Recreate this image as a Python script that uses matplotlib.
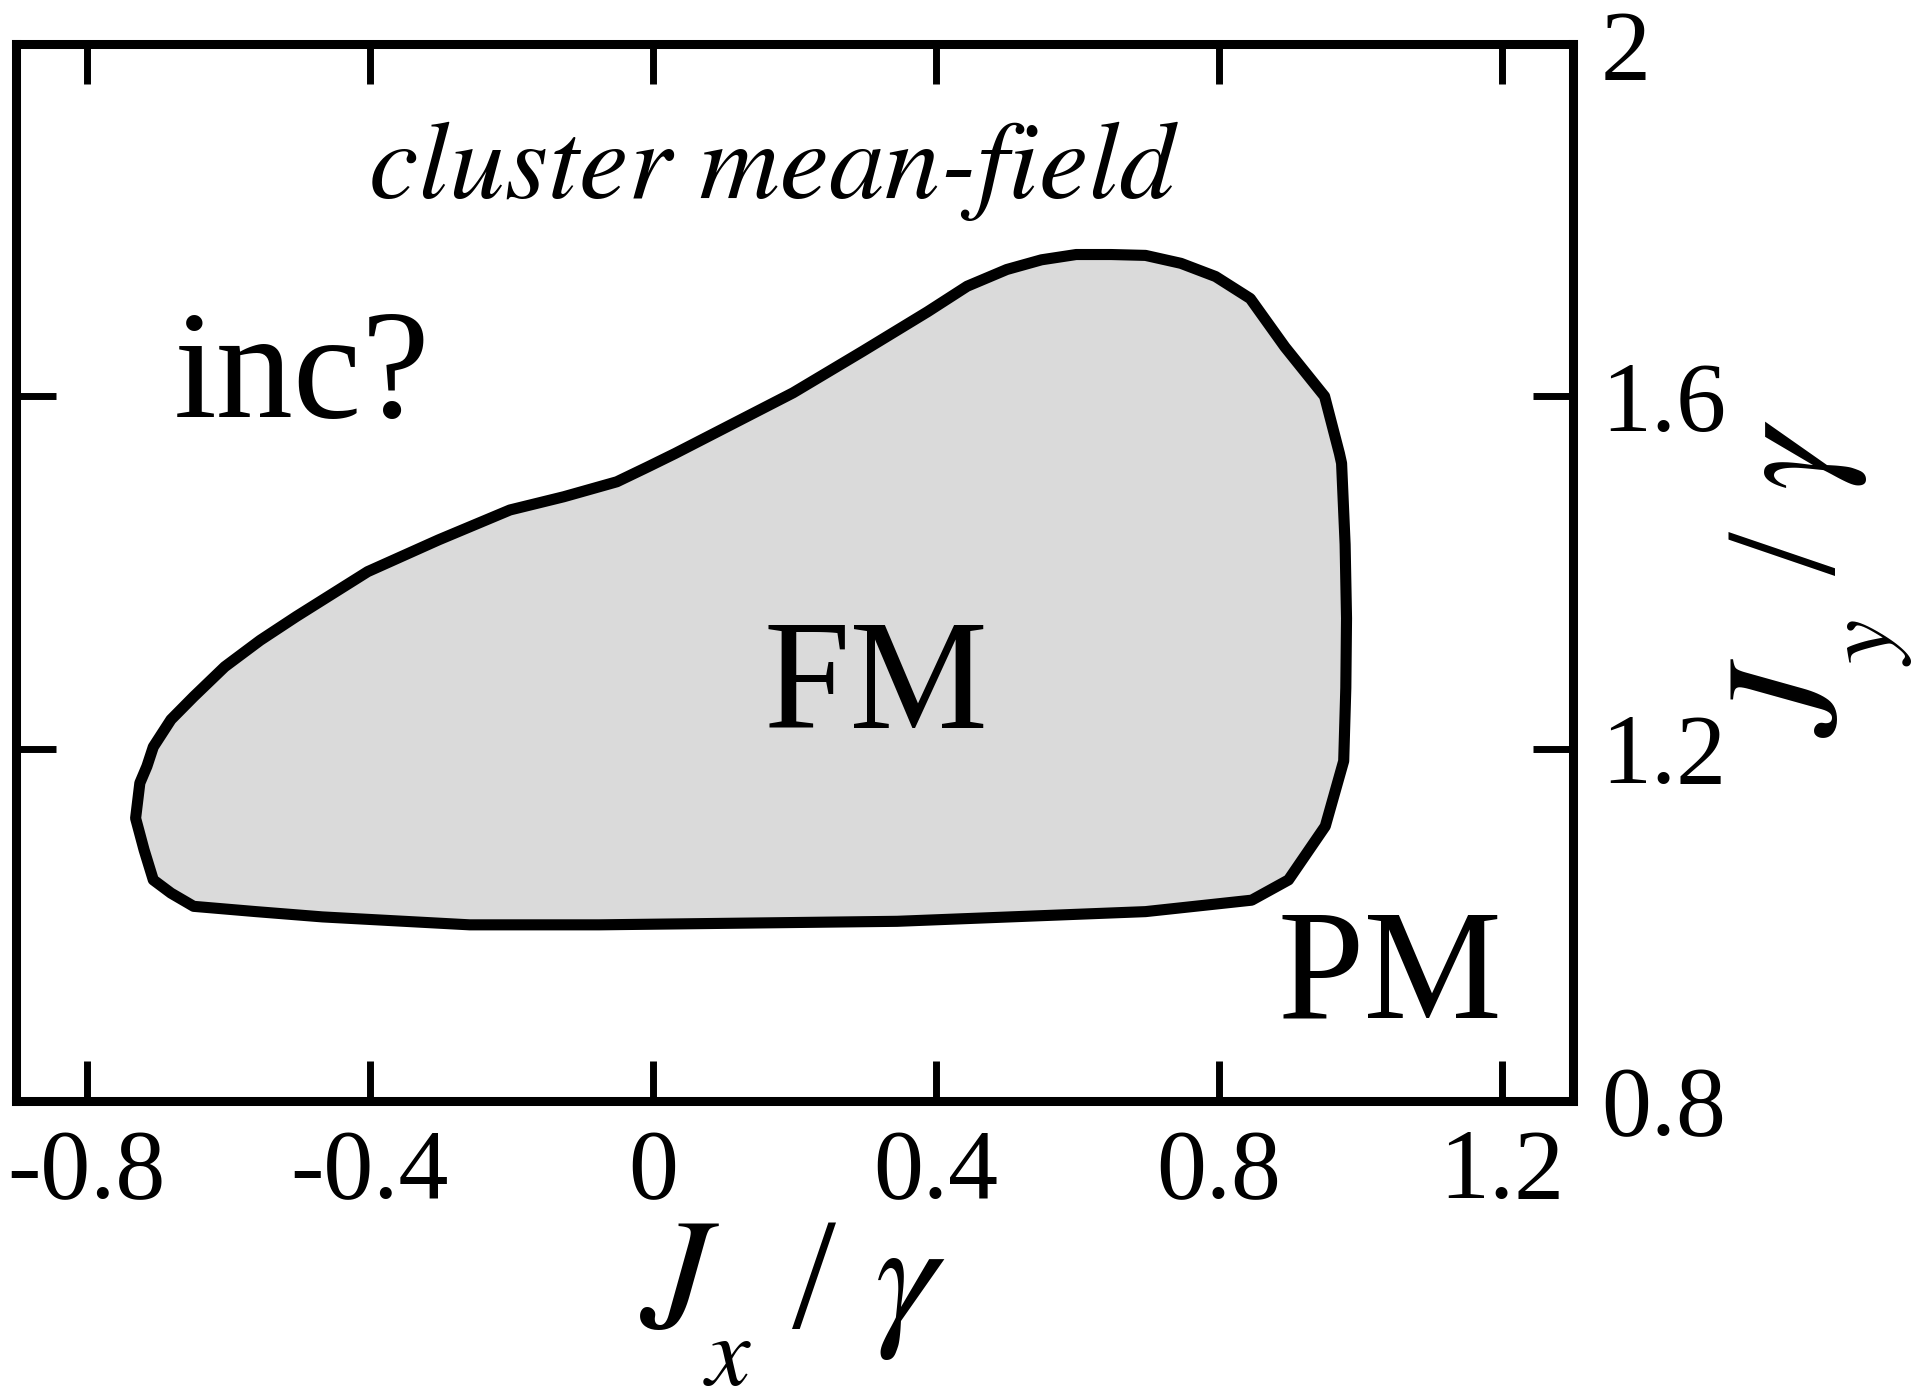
import matplotlib
matplotlib.use("Agg")
import matplotlib.pyplot as plt

plt.rcParams["mathtext.fontset"] = "stix"

# ---- data (phase boundary of the FM region) ----
boundary_x = [-0.731, -0.725, -0.715, -0.706, -0.681, -0.649, -0.605, -0.555,
              -0.504, -0.403, -0.303, -0.202, -0.126, -0.051, -0.007, 0.031,
              0.198, 0.296, 0.388, 0.444, 0.500, 0.549, 0.598, 0.647, 0.696,
              0.746, 0.795, 0.844, 0.893, 0.949, 0.970, 0.973, 0.978, 0.980,
              0.979, 0.976, 0.950, 0.898, 0.846, 0.696, 0.345, -0.076, -0.259,
              -0.467, -0.561, -0.649, -0.681, -0.706, -0.719]
boundary_y = [1.121, 1.161, 1.180, 1.202, 1.233, 1.259, 1.293, 1.323,
              1.350, 1.401, 1.437, 1.471, 1.486, 1.503, 1.520, 1.535,
              1.604, 1.651, 1.696, 1.725, 1.744, 1.755, 1.761, 1.761, 1.760,
              1.751, 1.736, 1.711, 1.656, 1.600, 1.535, 1.524, 1.432, 1.348,
              1.269, 1.186, 1.112, 1.051, 1.028, 1.015, 1.004, 1.000, 1.000,
              1.009, 1.015, 1.021, 1.036, 1.051, 1.085]

x_ticks = [-0.8, -0.4, 0.0, 0.4, 0.8, 1.2]
x_tick_labels = ["-0.8", "-0.4", "0", "0.4", "0.8", "1.2"]
y_ticks = [0.8, 1.2, 1.6, 2.0]
y_tick_labels = ["0.8", "1.2", "1.6", "2"]
x_limits = (-0.9, 1.3)
y_limits = (0.8, 2.0)

title_text = "cluster mean-field"
region_labels = ["inc?", "FM", "PM"]

W, H = 1920, 1394
SERIF = "Liberation Serif"


def P(x, y):
    return x / W, 1 - y / H


fig = plt.figure(figsize=(W / 100, H / 100), dpi=100)
fig.patch.set_facecolor("white")
l, r, t, b = 16, 1573, 44, 1101
ax = fig.add_axes([l / W, 1 - b / H, (r - l) / W, (b - t) / H])

ax.fill(boundary_x, boundary_y, facecolor="#dadada", edgecolor="black",
        linewidth=8, joinstyle="round", zorder=2)

ax.set_xlim(*x_limits)
ax.set_ylim(*y_limits)
ax.set_xticks(x_ticks)
ax.set_xticklabels(x_tick_labels)
ax.set_yticks(y_ticks)
ax.set_yticklabels(y_tick_labels)

for sp in ax.spines.values():
    sp.set_linewidth(6.5)
    sp.set_zorder(5)

ax.tick_params(axis="both", direction="in", length=29, width=5,
               top=True, bottom=True, left=True, right=True,
               labelleft=False, labelright=True, labelbottom=True,
               labelsize=72, pad=20)
for lab in ax.get_xticklabels() + ax.get_yticklabels():
    lab.set_fontfamily(SERIF)

# ---- texts inside the plot ----
fig.text(*P(772, 198), title_text, fontfamily="STIXGeneral", fontstyle="italic",
         fontsize=80, ha="center", va="baseline")
fig.text(*P(174, 417), region_labels[0], fontfamily=SERIF, fontsize=111,
         ha="left", va="baseline")
fig.text(*P(876, 728), region_labels[1], fontfamily=SERIF, fontsize=112,
         ha="center", va="baseline")
fig.text(*P(1390, 1018), region_labels[2], fontfamily=SERIF, fontsize=112,
         ha="center", va="baseline")

# ---- axis labels: J_x / gamma and J_y / gamma ----
big, small = 114, 72
fig.text(*P(640, 1327), r"$J$", fontsize=big, ha="left", va="baseline")
fig.text(*P(703, 1385), r"$x$", fontsize=small, ha="left", va="baseline")
fig.text(*P(792, 1327), "/", fontfamily=SERIF, fontsize=big,
         ha="left", va="baseline")
fig.text(*P(874, 1327), r"$\gamma$", fontsize=big, ha="left", va="baseline")

rot = dict(rotation=90, rotation_mode="anchor", ha="left", va="baseline")
fig.text(*P(1835, 737), r"$J$", fontsize=big, **rot)
fig.text(*P(1892, 666), r"$y$", fontsize=small, **rot)
fig.text(*P(1834, 575), "/", fontfamily=SERIF, fontsize=big, **rot)
fig.text(*P(1834, 491), r"$\gamma$", fontsize=big, **rot)

fig.savefig("out.png", dpi=100, facecolor="white")
